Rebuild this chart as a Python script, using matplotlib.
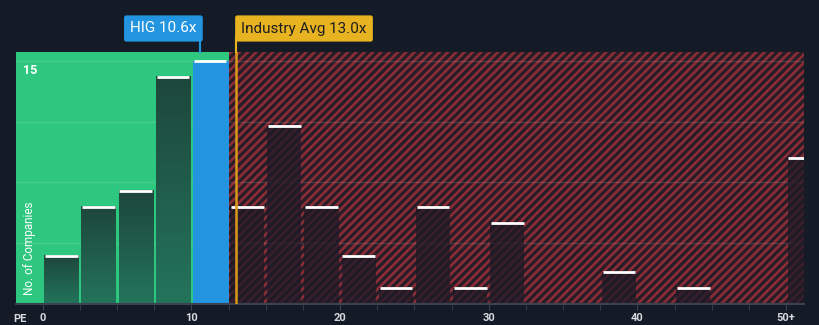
import numpy as np
import matplotlib.pyplot as plt
import matplotlib.transforms as mtransforms
from matplotlib.colors import LinearSegmentedColormap

# PE bins (left edges), 2.5 wide, last one is 50+
bin_left = [0, 2.5, 5, 7.5, 10, 12.5, 15, 17.5, 20, 22.5, 25, 27.5, 30,
            32.5, 35, 37.5, 40, 42.5, 45, 47.5, 50]
counts = [3, 6, 7, 14, 15, 6, 11, 6, 3, 1, 6, 1, 5, 0, 0, 2, 0, 1, 0, 0, 9]
tick_pos = [0, 10, 20, 30, 40, 50]
tick_lab = ["0", "10", "20", "30", "40", "50+"]

company = "HIG"
company_pe = 10.6
industry_pe = 13.0
fair_edge = 12.5

bg = "#151b26"
green = "#2ec77f"
blue = "#2394e0"
yellow = "#e8b321"

plt.rcParams["font.family"] = ["Roboto", "DejaVu Sans"]
plt.rcParams["hatch.linewidth"] = 1.9
plt.rcParams["hatch.color"] = "#8a2d37"

fig = plt.figure(figsize=(8.2, 3.25), dpi=100, facecolor=bg)
ax = fig.add_axes([16 / 820, 20.7 / 325, 788 / 820, 252.3 / 325])
ax.set_facecolor(bg)
xmin, xmax = -1.8, 51.2
ymax = 15.53

# background zones
ax.axvspan(xmin, fair_edge, color=green, lw=0, zorder=0)
ax.axvspan(fair_edge, xmax, facecolor="#281d27", edgecolor="#8a2d37",
           hatch="////", lw=0, zorder=0)

# grid
for g in [3.75, 7.5, 11.25, 15]:
    ax.axhline(g, color="white", alpha=0.12, lw=1, zorder=1)

# bars
grad = LinearSegmentedColormap.from_list("g", ["#23745b", "#1d473b"])
for x, c in zip(bin_left, counts):
    if c == 0:
        continue
    if x == 10:
        ax.bar(x + 0.1, c, width=2.4, align="edge", color=blue, zorder=2)
    elif x < fair_edge:
        ax.imshow(np.linspace(0, 1, 100).reshape(-1, 1), cmap=grad,
                  origin="lower", aspect="auto",
                  extent=[x + 0.1, x + 2.4, 0, c], zorder=2)
    else:
        ax.bar(x + 0.1, c, width=2.3, align="edge", color="#1c1a26",
               alpha=0.75, zorder=2)
    ax.plot([x + 0.15, x + 2.35], [c, c], color="white", lw=2,
            solid_capstyle="butt", zorder=3)

ax.set_xlim(xmin, xmax)
ax.set_ylim(0, ymax)

# industry average line
ax.axvline(industry_pe, color="#d99a1a", lw=1.8, zorder=4)

# axes styling
for s in ["top", "right", "left"]:
    ax.spines[s].set_visible(False)
ax.spines["bottom"].set_color("#3b4350")
ax.spines["bottom"].set_linewidth(1.5)
ax.set_yticks([])
ax.set_xticks([b for b in bin_left], minor=True)
ax.set_xticks(tick_pos)
ax.set_xticklabels(tick_lab, color="#d6d9de", fontsize=8,
                   fontweight="bold")
ax.tick_params(axis="x", which="both", length=4, color="#3b4350", pad=2)

fig.text(13 / 820, (325 - 319) / 325, "PE", color="#d6d9de", fontsize=8,
         fontweight="bold", va="center")
ax.text(-1.3, 15 - 0.2, "15", color="white", fontsize=9,
        fontweight="bold", va="top", ha="left", zorder=5)
ax.text(-1.3, 0.55, "No. of Companies", color="white", fontsize=8.5,
        rotation=90, va="bottom", ha="left", zorder=5)

# labels above the plot
trans = mtransforms.blended_transform_factory(ax.transData, fig.transFigure)
ax.plot([company_pe, company_pe], [ymax, ymax + 1], color=blue, lw=1.5,
        clip_on=False, zorder=5)
ax.text(company_pe - 0.25, (325 - 28.5) / 325, f"{company} {company_pe}x",
        transform=trans, ha="right", va="center", color="white",
        fontsize=11,
        bbox=dict(boxstyle="round,pad=0.4,rounding_size=0.15", fc=blue,
                  ec="none"))
ax.plot([industry_pe, industry_pe], [ymax, ymax + 1], color=yellow, lw=1.5,
        clip_on=False, zorder=5)
ax.text(industry_pe + 0.35, (325 - 28.5) / 325,
        f"Industry Avg {industry_pe}x", transform=trans, ha="left",
        va="center", color="#1e1e1e", fontsize=11,
        bbox=dict(boxstyle="round,pad=0.4,rounding_size=0.15", fc=yellow,
                  ec="none"))

fig.savefig("out.png", dpi=100, facecolor=bg)
